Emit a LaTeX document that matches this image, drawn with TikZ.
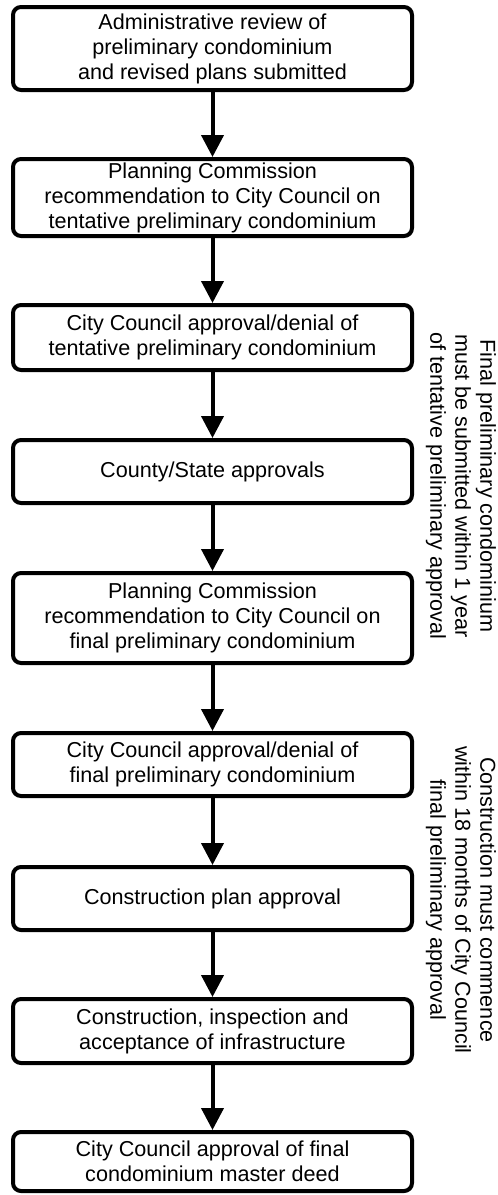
\documentclass[tikz,border=0pt]{standalone}
\usepackage{fontspec}
\setmainfont{Liberation Sans}
\usepackage{tikz}
\usetikzlibrary{arrows.meta}

\tikzset{
  stage/.style={draw, line width=4pt, rounded corners=8pt, minimum width=399pt,
    minimum height=63pt, inner sep=0pt, align=center,
    font=\fontsize{21.6}{25}\selectfont},
  note/.style={rotate=-90, align=center, inner sep=0pt,
    font=\fontsize{21.6}{25}\selectfont},
  flow/.style={line width=4pt, -{Triangle[width=22pt,length=22pt]}}
}

\begin{document}
\begin{tikzpicture}[x=1pt,y=-1pt]
\useasboundingbox (0,0) rectangle (498,1195);
\node[stage, minimum height=83pt] (a) at (212.5,48.5) {Administrative review of\\preliminary condominium\\and revised plans submitted};
\node[stage, minimum height=77pt] (b) at (212.5,197.5) {Planning Commission\\recommendation to City Council on\\tentative preliminary condominium};
\node[stage, minimum height=65pt] (c) at (212.5,337.5) {City Council approval/denial of\\tentative preliminary condominium};
\node[stage] (d) at (212.5,471.5) {County/State approvals};
\node[stage, minimum height=90pt] (e) at (212.5,618) {Planning Commission\\recommendation to City Council on\\final preliminary condominium};
\node[stage] (f) at (212.5,764.5) {City Council approval/denial of\\final preliminary condominium};
\node[stage] (g) at (212.5,898.5) {Construction plan approval};
\node[stage, minimum height=64pt] (h) at (212.5,1031) {Construction, inspection and\\acceptance of infrastructure};
\node[stage, minimum height=59pt] (i) at (212.5,1161.5) {City Council approval of final\\condominium master deed};
\node[note] (p) at (461,486) {Final preliminary condominium\\must be submitted within 1 year\\of tentative preliminary approval};
\node[note] (q) at (461,900) {Construction must commence\\within 18 months of City Council\\final preliminary approval};
\draw[flow] (a) -- (b);
\draw[flow] (b) -- (c);
\draw[flow] (c) -- (d);
\draw[flow] (d) -- (e);
\draw[flow] (e) -- (f);
\draw[flow] (f) -- (g);
\draw[flow] (g) -- (h);
\draw[flow] (h) -- (i);
\end{tikzpicture}
\end{document}
